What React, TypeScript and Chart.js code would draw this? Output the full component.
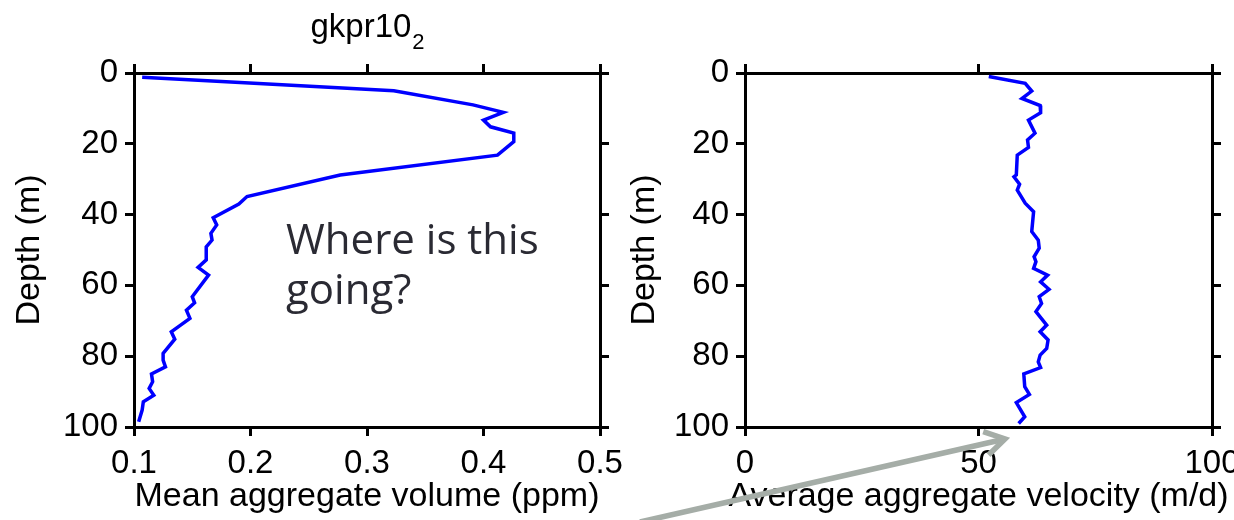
import React, { useEffect, useRef } from "react";
import { Chart, registerables } from "chart.js";

Chart.register(...registerables);

const FONT = '"Liberation Sans", Arial, Helvetica, sans-serif';
const NOTE_FONT = '"Open Sans", "Noto Sans", sans-serif';

// Mean aggregate volume profile (ppm) against depth (m)
const volumeDepth = [
  1.2, 5.0, 9.0, 11.1, 13.3, 15.2, 17.0, 19.4, 23.2, 28.8, 34.9, 37.0, 40.9,
  42.9, 45.3, 47.2, 49.1, 52.8, 54.9, 57.1, 63.2, 64.9, 67.0, 69.3, 71.2, 73.1,
  75.2, 79.2, 81.1, 83.0, 85.0, 87.2, 89.1, 91.0, 92.9, 95.2, 98.5,
];
const volumeValues = [
  0.107, 0.323, 0.391, 0.417, 0.4, 0.406, 0.426, 0.426, 0.412, 0.277, 0.197,
  0.19, 0.168, 0.171, 0.166, 0.167, 0.162, 0.162, 0.155, 0.164, 0.15, 0.152,
  0.145, 0.148, 0.14, 0.132, 0.135, 0.125, 0.125, 0.127, 0.115, 0.116, 0.113,
  0.117, 0.108, 0.107, 0.104,
];

// Average aggregate sinking velocity (m/d) against depth (m)
const velocityDepth = [
  1.0, 2.9, 5.1, 7.2, 9.2, 11.2, 13.3, 17.0, 18.9, 21.0, 23.2, 28.8, 29.3,
  31.4, 33.1, 36.8, 39.2, 44.8, 47.2, 49.5, 51.9, 53.3, 55.2, 57.1, 59.0, 61.1,
  63.2, 65.1, 67.4, 71.2, 73.1, 75.4, 77.8, 79.7, 81.6, 83.2, 85.0, 88.6, 90.8,
  93.1, 97.1, 99.0,
];
const velocityValues = [
  52.2, 60.0, 61.4, 59.3, 63.2, 63.3, 60.7, 62.1, 60.5, 60.7, 58.3, 58.1, 57.6,
  58.8, 58.3, 60.0, 61.8, 61.4, 62.8, 63.0, 61.9, 62.3, 61.8, 64.8, 63.3, 65.1,
  63.0, 63.5, 62.3, 64.6, 63.2, 64.9, 64.6, 63.2, 62.8, 63.3, 59.7, 59.9, 60.9,
  58.1, 59.9, 58.6,
];

const depthTicks = [0, 20, 40, 60, 80, 100];
const volumeTicks = [0.1, 0.2, 0.3, 0.4, 0.5];
const velocityTicks = [0, 50, 100];

const W = 1234;
const H = 520;
const TICK_FONT = 33;
const TITLE_FONT = 34;
const TICK_LEN = 9;

type AxisSpec = {
  position: "top" | "bottom" | "left" | "right";
  min: number;
  max: number;
  values: number[];
  size: number;
  labels: boolean;
  reverse?: boolean;
  title?: string;
  titlePad?: any;
  tickPad?: number;
};

function makeAxis(s: AxisSpec) {
  const horizontal = s.position === "top" || s.position === "bottom";
  return {
    type: "linear",
    axis: horizontal ? "x" : "y",
    position: s.position,
    min: s.min,
    max: s.max,
    reverse: !!s.reverse,
    grid: {
      display: true,
      drawOnChartArea: false,
      drawTicks: true,
      tickLength: TICK_LEN,
      color: "#000",
      lineWidth: 3,
    },
    border: { display: true, color: "#000", width: 3 },
    afterBuildTicks: (a: any) => {
      a.ticks = s.values.map((v) => ({ value: v }));
    },
    afterFit: (a: any) => {
      if (horizontal) a.height = s.size;
      else a.width = s.size;
      // end labels may hang past the frame, as in the original figure
      a.paddingLeft = 0;
      a.paddingRight = 0;
      a.paddingTop = 0;
      a.paddingBottom = 0;
    },
    ticks: {
      display: s.labels,
      color: "#000",
      font: { family: FONT, size: TICK_FONT },
      padding: s.tickPad ?? 0,
      autoSkip: false,
      maxRotation: 0,
      minRotation: 0,
      callback: (v: number) => String(v),
    },
    title: s.title
      ? {
          display: true,
          text: s.title,
          color: "#000",
          font: { family: FONT, size: TITLE_FONT },
          padding: s.titlePad,
        }
      : { display: false },
  };
}

function profile(depth: number[], values: number[]) {
  return depth.map((d, i) => ({ x: values[i], y: d }));
}

// Bottom axis caption, centred under the plot area and allowed to run wider than it
const captionPlugin = {
  id: "xCaption",
  afterDraw(chart: any, _args: any, opts: any) {
    if (!opts || !opts.text) return;
    const { ctx, chartArea } = chart;
    ctx.save();
    ctx.fillStyle = "#000";
    ctx.textAlign = "center";
    ctx.textBaseline = "middle";
    ctx.font = `${TITLE_FONT}px ${FONT}`;
    ctx.fillText(opts.text, (chartArea.left + chartArea.right) / 2, H - TITLE_FONT * 0.6 - 3);
    ctx.restore();
  },
};

// Title with subscript, centred over the plot area
const titlePlugin = {
  id: "subscriptTitle",
  afterDraw(chart: any) {
    const { ctx, chartArea } = chart;
    ctx.save();
    ctx.fillStyle = "#000";
    ctx.textBaseline = "alphabetic";
    ctx.textAlign = "left";
    ctx.font = `${TICK_FONT}px ${FONT}`;
    const main = "gkpr10";
    const wm = ctx.measureText(main).width;
    ctx.font = `22px ${FONT}`;
    const ws = ctx.measureText("2").width;
    const x0 = (chartArea.left + chartArea.right) / 2 - (wm + ws) / 2;
    ctx.font = `${TICK_FONT}px ${FONT}`;
    ctx.fillText(main, x0, 37);
    ctx.font = `22px ${FONT}`;
    ctx.fillText("2", x0 + wm + 1, 49);
    ctx.restore();
  },
};

// Question placed inside the volume panel
const notePlugin = {
  id: "questionNote",
  afterDraw(chart: any) {
    const { ctx, scales } = chart;
    const x = scales.x.getPixelForValue(0.2305);
    ctx.save();
    ctx.fillStyle = "#2a2a33";
    ctx.textAlign = "left";
    ctx.textBaseline = "alphabetic";
    ctx.font = `42px ${NOTE_FONT}`;
    ctx.fillText("Where is this", x, scales.y.getPixelForValue(51.0));
    ctx.fillText("going?", x, scales.y.getPixelForValue(65.3));
    ctx.restore();
  },
};

// Grey pointer running up towards the bottom of the velocity profile
const arrowPlugin = {
  id: "pointerArrow",
  afterDraw(chart: any) {
    const { ctx } = chart;
    const tip = { x: 1005, y: 439 };
    const tail = { x: 640, y: 522 };
    const ang = Math.atan2(tail.y - tip.y, tail.x - tip.x);
    const armLen = 23;
    const spread = 0.55;
    ctx.save();
    ctx.strokeStyle = "#a5ada7";
    ctx.lineWidth = 5.5;
    ctx.lineCap = "butt";
    ctx.lineJoin = "miter";
    ctx.beginPath();
    ctx.moveTo(tail.x, tail.y);
    ctx.lineTo(tip.x, tip.y);
    ctx.stroke();
    ctx.beginPath();
    ctx.moveTo(tip.x + armLen * Math.cos(ang + spread), tip.y + armLen * Math.sin(ang + spread));
    ctx.lineTo(tip.x, tip.y);
    ctx.lineTo(tip.x + armLen * Math.cos(ang - spread), tip.y + armLen * Math.sin(ang - spread));
    ctx.stroke();
    ctx.restore();
  },
};

function baseOptions(scales: any, padLeft: number, caption: string) {
  return {
    responsive: true,
    maintainAspectRatio: false,
    animation: false,
    layout: { padding: { left: padLeft, right: 0, top: 0, bottom: 0 } },
    plugins: {
      legend: { display: false },
      tooltip: { enabled: false },
      xCaption: { text: caption },
    },
    events: [],
    scales,
  };
}

export default function App() {
  const leftRef = useRef<HTMLCanvasElement>(null);
  const rightRef = useRef<HTMLCanvasElement>(null);

  useEffect(() => {
    const lineStyle = {
      showLine: true,
      borderColor: "#0000ff",
      backgroundColor: "#0000ff",
      borderWidth: 3.5,
      pointRadius: 0,
      tension: 0,
      fill: false,
    };

    // Left panel: plot area 134..600 x 73..427
    const left = new Chart(leftRef.current!, {
      type: "scatter",
      data: {
        datasets: [{ ...lineStyle, data: profile(volumeDepth, volumeValues) }],
      },
      options: baseOptions(
        {
          x: makeAxis({ position: "bottom", min: 0.1, max: 0.5, values: volumeTicks, size: 93, labels: true, tickPad: 8 }),
          x2: makeAxis({ position: "top", min: 0.1, max: 0.5, values: volumeTicks, size: 73, labels: false }),
          y: makeAxis({
            position: "left", min: 0, max: 100, values: depthTicks, size: 134, labels: true,
            reverse: true, tickPad: 7, title: "Depth (m)", titlePad: { top: 9, bottom: 0 },
          }),
          y2: makeAxis({ position: "right", min: 0, max: 100, values: depthTicks, size: W - 600, labels: false, reverse: true }),
        },
        0,
        "Mean aggregate volume (ppm)"
      ) as any,
      plugins: [titlePlugin, notePlugin, captionPlugin],
    });

    // Right panel: plot area 745..1212 x 73..427
    const right = new Chart(rightRef.current!, {
      type: "scatter",
      data: {
        datasets: [{ ...lineStyle, data: profile(velocityDepth, velocityValues) }],
      },
      options: baseOptions(
        {
          x: makeAxis({ position: "bottom", min: 0, max: 100, values: velocityTicks, size: 93, labels: true, tickPad: 8 }),
          x2: makeAxis({ position: "top", min: 0, max: 100, values: velocityTicks, size: 73, labels: false }),
          y: makeAxis({
            position: "left", min: 0, max: 100, values: depthTicks, size: 128, labels: true,
            reverse: true, tickPad: 7, title: "Depth (m)", titlePad: { top: 7, bottom: 0 },
          }),
          y2: makeAxis({ position: "right", min: 0, max: 100, values: depthTicks, size: W - 1212, labels: false, reverse: true }),
        },
        617,
        "Average aggregate velocity (m/d)"
      ) as any,
      plugins: [captionPlugin, arrowPlugin],
    });

    return () => {
      left.destroy();
      right.destroy();
    };
  }, []);

  const layer: React.CSSProperties = { position: "absolute", left: 0, top: 0, width: W, height: H };

  return (
    <div style={{ position: "fixed", left: 0, top: 0, width: W, height: H, background: "#fff", overflow: "hidden" }}>
      <div style={layer}>
        <canvas ref={leftRef} />
      </div>
      <div style={layer}>
        <canvas ref={rightRef} />
      </div>
    </div>
  );
}
